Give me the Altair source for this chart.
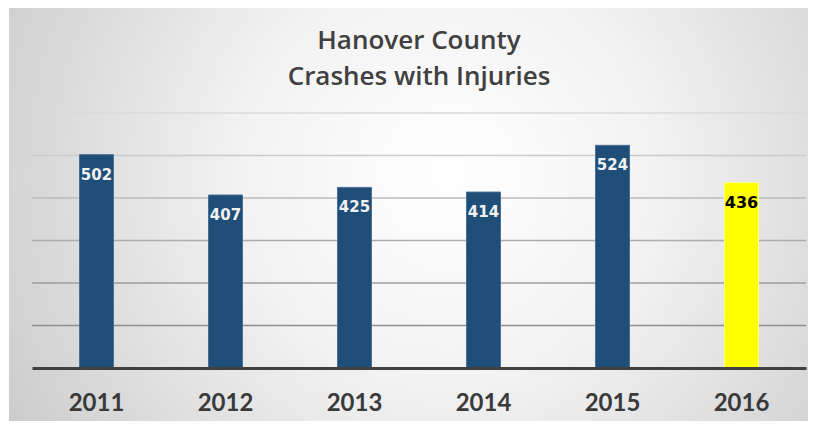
import altair as alt
import pandas as pd

years = ["2011", "2012", "2013", "2014", "2015", "2016"]
crashes = [502, 407, 425, 414, 524, 436]
grid_values = [100, 200, 300, 400, 500, 600]
title_lines = ["Hanover County", "Crashes with Injuries"]

df = pd.DataFrame({"year": years, "crashes": crashes})
grid_df = pd.DataFrame({"v": grid_values})
bg_df = pd.DataFrame({"a": [0]})

W, H = 774, 255
PAD_L, PAD_T, PAD_R, PAD_B = 24, 105, 2, 53

x_enc = alt.X(
    "year:N",
    sort=years,
    scale=alt.Scale(paddingInner=0.0, paddingOuter=0.0),
    axis=alt.Axis(
        title=None, ticks=False, labelAngle=0, labelPadding=23,
        labelFont="Lato", labelFontSize=24, labelFontWeight="bold",
        labelColor="#3a3a3a", domainColor="#404040", domainWidth=3,
        grid=False, zindex=1,
    ),
)
y_scale = alt.Scale(domain=[0, 600], nice=False)

background = alt.Chart(bg_df).mark_rect(
    fill=alt.Gradient(
        gradient="radial",
        stops=[
            alt.GradientStop(offset=0, color="#ffffff"),
            alt.GradientStop(offset=0.35, color="#f2f2f2"),
            alt.GradientStop(offset=1, color="#c0c0c0"),
        ],
        x1=0.55, y1=0.45, x2=0.55, y2=0.45, r1=0, r2=0.75,
    ),
).encode(
    x=alt.value(-PAD_L + 1), x2=alt.value(W + PAD_R),
    y=alt.value(-PAD_T), y2=alt.value(H + PAD_B),
)

grid = alt.Chart(grid_df).mark_rule(strokeWidth=1.6).encode(
    y=alt.Y("v:Q", scale=y_scale, axis=None),
    color=alt.Color("v:Q", scale=alt.Scale(domain=[100, 600], range=["#8f8f8f", "#dadada"]), legend=None),
)

bars = alt.Chart(df).mark_bar(size=34, strokeWidth=1).encode(
    x=x_enc,
    y=alt.Y("crashes:Q", scale=y_scale, axis=None),
    fill=alt.condition(alt.datum.year == "2016", alt.value("#FFFF00"), alt.value("#1F4E79")),
    stroke=alt.condition(alt.datum.year == "2016", alt.value("#FFFF88"), alt.value("#4A6F96")),
)

labels_blue = alt.Chart(df).transform_filter(alt.datum.year != "2016").mark_text(
    baseline="middle", dy=20, font="DejaVu Sans", fontSize=15, fontWeight="bold", color="#F2F2F2"
).encode(
    x=alt.X("year:N", sort=years),
    y=alt.Y("crashes:Q", scale=y_scale),
    text="crashes:Q",
)

labels_yellow = alt.Chart(df).transform_filter(alt.datum.year == "2016").mark_text(
    baseline="middle", dy=20, font="DejaVu Sans", fontSize=16, fontWeight="bold", color="#000000"
).encode(
    x=alt.X("year:N", sort=years),
    y=alt.Y("crashes:Q", scale=y_scale),
    text="crashes:Q",
)

chart = alt.layer(background, grid, bars, labels_blue, labels_yellow).properties(
    width=W, height=H,
    title=alt.TitleParams(
        text=title_lines, font="Open Sans", fontSize=26, fontWeight=600,
        color="#404040", anchor="middle", lineHeight=36, offset=0, dy=82, frame="group",
    ),
    autosize=alt.AutoSizeParams(type="none"),
    padding={"left": PAD_L, "top": PAD_T, "right": PAD_R, "bottom": PAD_B},
).configure_view(stroke=None).configure(background="white")

chart.save("out.html", embed_options={"renderer": "svg", "actions": False})
